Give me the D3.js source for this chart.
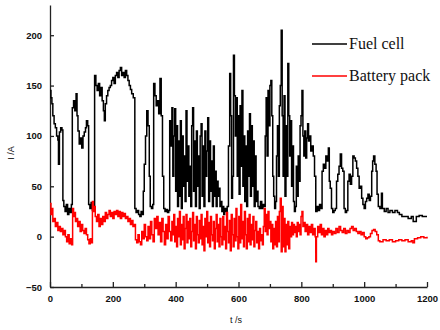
<!DOCTYPE html>
<html lang="en">
<head>
    <meta charset="utf-8">
    <title>Fuel cell / battery current</title>
    <script src="https://cdnjs.cloudflare.com/ajax/libs/d3/7.8.5/d3.min.js"></script>
    <style>
        body { margin: 0; background: #fff; }
        .axis path, .axis line { stroke: #222; stroke-width: 1.3; }
        .axis text { font-family: "Liberation Sans", Arial, sans-serif; font-size: 9.5px; font-weight: bold; fill: #111; }
        .legend text { font-family: "Liberation Serif", "Times New Roman", serif; font-size: 16px; fill: #111; }
        .title text { font-family: "Liberation Sans", Arial, sans-serif; font-size: 9px; fill: #111; }
    </style>
</head>
<body>
<div id="chart"></div>
<script>
// [t (s), I (A)]
var fuelCell = [
    [0,145],[3,138],[6,132],[9,120],[13,112],[17,108],[21,100],[25,96],[27,72],[30,104],[34,108],[38,106],
    [41,36],[44,30],[48,25],[52,32],[56,22],[60,28],[64,24],[68,32],[71,128],[75,135],[79,125],[83,142],
    [86,120],[89,105],[93,92],[97,98],[101,88],[105,100],[109,104],[113,108],[116,115],[120,110],[123,32],
    [127,28],[131,34],[135,26],[139,30],[142,160],[146,150],[150,145],[154,152],[158,140],[162,148],
    [166,135],[170,125],[173,115],[176,132],[180,140],[184,145],[188,148],[192,150],[196,155],[200,158],
    [204,152],[208,160],[212,163],[216,158],[220,165],[224,168],[228,160],[232,163],[236,158],[240,165],
    [244,160],[248,155],[252,150],[256,146],[260,142],[265,138],[270,28],[274,24],[278,26],[282,22],
    [286,20],[290,25],[294,22],[297,45],[300,72],[304,100],[308,125],[312,110],[316,60],[319,30],[323,28],
    [327,32],[330,152],[334,140],[338,130],[342,135],[346,122],[350,157],[354,120],[358,60],[362,28],
    [366,25],[370,27],[374,24],[378,26],[381,115],[385,90],[388,128],[391,60],[394,100],
    [397,127],[400,45],[403,110],[406,30],[409,95],[412,40],[415,115],[418,28],[421,100],[424,50],[427,80],
    [430,35],[433,125],[436,55],[439,90],[442,40],[445,70],[448,30],[451,110],[454,128],[457,45],[460,95],
    [463,30],[466,105],[469,50],[472,80],[475,28],[478,100],[481,112],[484,40],[487,90],[490,30],[493,105],
    [496,60],[499,85],[502,118],[505,35],[508,95],[511,45],[514,75],[517,30],[520,90],[523,40],[526,65],
    [529,30],[532,55],[535,40],[538,48],[541,30],[544,35],[547,25],[550,30],[553,22],[556,28],[560,25],
    [564,30],[568,90],[572,162],[575,120],[578,38],[581,60],[584,180],[587,140],[590,100],[593,138],
    [596,60],[599,120],[602,42],[605,130],[608,70],[611,145],[614,50],[617,100],[620,35],[623,90],[626,30],
    [629,105],[632,60],[635,122],[638,40],[641,110],[644,50],[647,95],[650,30],[653,80],[656,35],[659,45],
    [662,30],[666,28],[670,35],[674,28],[678,32],[682,30],[685,100],[688,138],[691,80],[694,145],[697,110],
    [700,150],[703,155],[706,120],[709,60],[712,40],[715,28],[718,35],[721,80],[724,110],[727,60],[730,130],
    [733,150],[736,205],[739,120],[742,60],[745,140],[748,40],[751,110],[754,60],[757,172],[760,120],
    [763,80],[766,115],[769,50],[772,90],[775,35],[778,25],[781,30],[784,70],[787,40],[790,80],[793,55],
    [796,110],[799,120],[802,145],[805,100],[808,80],[811,105],[814,78],[817,98],[820,112],[823,95],
    [826,100],[830,85],[834,90],[838,80],[842,60],[846,25],[850,30],[854,26],[858,32],[862,28],[866,65],
    [870,72],[874,68],[878,80],[882,75],[886,88],[889,55],[892,48],[896,28],[900,24],[904,26],[908,28],
    [912,55],[916,62],[920,70],[924,82],[928,68],[932,65],[936,28],[940,24],[944,26],[948,55],[952,62],
    [956,52],[960,60],[964,80],[968,78],[972,75],[976,68],[980,60],[984,48],[988,50],[992,38],[996,32],
    [1000,28],[1004,35],[1008,38],[1012,42],[1016,36],[1020,40],[1024,65],[1027,75],[1030,80],[1034,72],
    [1038,65],[1041,42],[1045,30],[1050,28],[1055,43],[1058,28],[1064,25],[1070,28],[1076,24],[1082,26],
    [1090,24],[1098,26],[1106,24],[1112,22],[1120,20],[1130,20],[1140,18],[1150,20],[1156,15],[1162,15],
    [1166,20],[1175,21],[1185,20],[1195,20],[1200,20]
];

var batteryPack = [
    [0,33],[3,22],[6,28],[9,15],[13,18],[17,10],[21,14],[25,6],[29,10],[33,5],[37,8],[41,2],[45,6],[49,0],
    [53,-5],[57,2],[61,-7],[65,-2],[69,-8],[72,28],[75,20],[78,24],[81,15],[84,18],[88,10],[92,15],[96,5],
    [100,12],[104,6],[108,3],[112,8],[116,2],[120,-3],[124,-7],[128,-2],[132,-6],[135,35],[138,25],[141,30],
    [144,20],[148,15],[152,22],[156,10],[160,18],[164,12],[168,20],[172,15],[176,24],[180,18],[184,22],
    [188,26],[192,20],[196,24],[200,18],[204,25],[208,22],[212,26],[216,20],[220,25],[224,18],[228,24],
    [232,20],[236,23],[240,18],[244,20],[248,15],[252,18],[256,12],[260,16],[264,10],[268,12],[272,-3],
    [276,-6],[280,2],[284,-5],[288,-8],[292,5],[296,-2],[300,12],[304,0],[308,-4],[312,10],[316,-2],
    [320,15],[324,2],[328,-5],[332,18],[336,8],[340,20],[344,2],[348,14],[352,-5],[356,18],[360,5],
    [364,-8],[368,12],[372,-2],[376,20],[380,5],[384,-4],[388,15],[391,2],[394,22],[397,-5],[400,10],
    [403,-10],[406,18],[409,0],[412,25],[415,-8],[418,12],[421,-3],[424,20],[427,-12],[430,8],[433,22],
    [436,-6],[439,15],[442,-2],[445,18],[448,-10],[451,5],[454,24],[457,-4],[460,12],[463,-12],[466,20],
    [469,2],[472,-6],[475,16],[478,-2],[481,22],[484,-8],[487,10],[490,-14],[493,18],[496,0],[499,25],
    [502,-6],[505,14],[508,-10],[511,20],[514,2],[517,-4],[520,15],[523,-12],[526,8],[529,22],[532,-5],
    [535,12],[538,-10],[541,18],[544,0],[547,-8],[550,20],[553,-3],[556,10],[559,-12],[562,24],[565,5],
    [568,-6],[571,16],[574,-14],[577,22],[580,2],[583,-10],[586,18],[589,-4],[592,28],[595,0],[598,-12],
    [601,20],[604,-6],[607,32],[610,-2],[613,15],[616,-10],[619,25],[622,2],[625,-12],[628,18],[631,-5],
    [634,22],[637,-8],[640,12],[643,-3],[646,20],[649,-10],[652,6],[655,15],[658,-6],[661,5],[664,-12],
    [667,8],[670,-4],[673,2],[676,-8],[679,10],[682,28],[685,5],[688,22],[691,2],[694,25],[697,8],[700,15],
    [703,-5],[706,12],[709,-12],[712,8],[715,-8],[718,15],[721,-10],[724,20],[727,-5],[730,25],[733,38],
    [736,-15],[739,30],[742,-10],[745,18],[748,-15],[751,12],[754,-8],[757,15],[760,-12],[763,10],[766,0],
    [769,14],[772,2],[775,12],[778,4],[781,10],[784,0],[787,14],[790,5],[793,12],[796,2],[799,20],[802,25],
    [805,10],[808,14],[812,5],[816,12],[820,2],[824,10],[828,4],[832,12],[836,2],[840,8],[844,0],[846,-25],
    [848,0],[852,10],[856,4],[860,12],[864,2],[868,8],[872,0],[876,6],[880,2],[884,8],[888,4],[892,6],
    [896,2],[900,5],[905,3],[910,8],[915,4],[920,10],[925,6],[930,4],[935,8],[940,3],[945,6],[950,4],
    [955,8],[960,10],[965,6],[970,8],[975,5],[980,3],[985,5],[990,2],[995,4],[1000,0],[1005,-2],[1010,-1],
    [1015,0],[1020,3],[1025,6],[1030,7],[1035,5],[1040,2],[1045,-4],[1050,-5],[1060,-3],[1070,-4],
    [1080,-3],[1090,-5],[1100,-4],[1110,-3],[1120,-4],[1130,-3],[1140,-5],[1150,-4],[1155,-6],[1160,-2],
    [1170,-1],[1180,0],[1190,-1],[1200,0]
];

var xTicks = [0, 200, 400, 600, 800, 1000, 1200];
var xMinorTicks = [100, 300, 500, 700, 900, 1100];
var yTicks = [-50, 0, 50, 100, 150, 200];
var seriesNames = ["Fuel cell", "Battery pack"];
var seriesColors = ["#000000", "#ff0000"];

var width = 440, height = 330;

var svg = d3.select("#chart")
    .append("svg")
    .attr("width", width)
    .attr("height", height);

var x = d3.scaleLinear().domain([0, 1200]).range([50, 427]);
var y = d3.scaleLinear().domain([-50, 230]).range([287, 5]);

// axes, ticks pointing inwards
svg.append("g")
    .attr("class", "axis")
    .attr("transform", "translate(0,287)")
    .call(d3.axisBottom(x).tickValues(xTicks).tickFormat(d3.format("d"))
        .tickSize(-5).tickSizeOuter(0).tickPadding(8));

svg.append("g")
    .attr("class", "axis")
    .attr("transform", "translate(0,287)")
    .call(d3.axisBottom(x).tickValues(xMinorTicks).tickSize(-3).tickSizeOuter(0).tickFormat(""))
    .select(".domain").remove();

svg.append("g")
    .attr("class", "axis")
    .attr("transform", "translate(50,0)")
    .call(d3.axisLeft(y).tickValues(yTicks).tickFormat(d3.format("d"))
        .tickSize(-4).tickSizeOuter(0).tickPadding(8));

var line = d3.line()
    .curve(d3.curveStepAfter)
    .x(d => x(d[0]))
    .y(d => y(d[1]));

svg.append("path")
    .datum(fuelCell)
    .attr("d", line)
    .attr("fill", "none")
    .attr("stroke", seriesColors[0])
    .attr("stroke-width", 1.5);

svg.append("path")
    .datum(batteryPack)
    .attr("d", line)
    .attr("fill", "none")
    .attr("stroke", seriesColors[1])
    .attr("stroke-width", 1.5);

// axis titles
var titles = svg.append("g").attr("class", "title");
titles.append("text")
    .attr("x", 236)
    .attr("y", 323)
    .attr("text-anchor", "middle")
    .text("t /s");
titles.append("text")
    .attr("transform", "translate(14,153) rotate(-90)")
    .attr("text-anchor", "middle")
    .text("I /A");

// legend
var legend = svg.append("g")
    .attr("class", "legend")
    .selectAll("g")
    .data(seriesNames)
    .enter()
    .append("g")
    .attr("transform", (d, i) => "translate(312," + (44 + i * 32) + ")");

legend.append("line")
    .attr("x1", 0)
    .attr("x2", 35)
    .attr("stroke", (d, i) => seriesColors[i])
    .attr("stroke-width", 1.3);

legend.append("text")
    .attr("x", 37)
    .attr("y", 5)
    .text(d => d);
</script>
</body>
</html>
